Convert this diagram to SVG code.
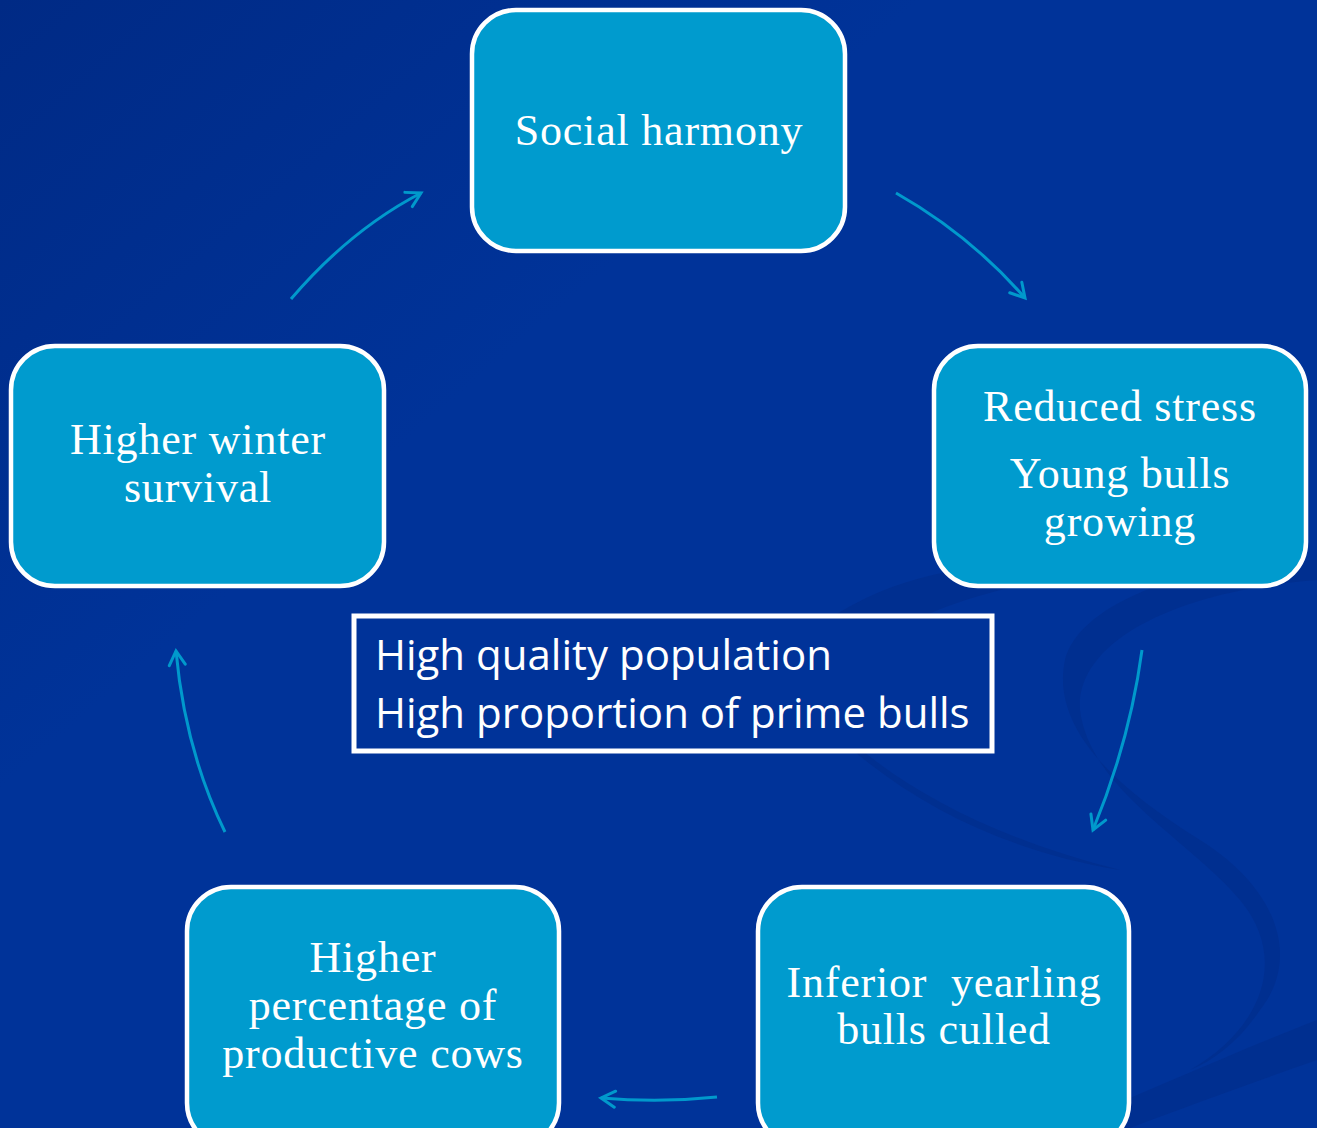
<svg xmlns="http://www.w3.org/2000/svg" width="1317" height="1128" viewBox="0 0 1317 1128">
<defs>
<linearGradient id="bg" x1="0" y1="0" x2="1" y2="1">
<stop offset="0" stop-color="#002a85"/>
<stop offset="0.35" stop-color="#003399"/>
<stop offset="1" stop-color="#003399"/>
</linearGradient>
<marker id="ah" viewBox="0 0 20 20" refX="17" refY="10" markerWidth="20" markerHeight="20" markerUnits="userSpaceOnUse" orient="auto">
<path d="M3,2 L17,10 L3,18" fill="none" stroke="#0099cc" stroke-width="3" stroke-linecap="round"/>
</marker>
<style>
.node rect{fill:#009bce;stroke:#ffffff;stroke-width:4.5}
.t{font-family:"Liberation Serif","DejaVu Serif",serif;font-size:44px;letter-spacing:0.8px;fill:#ffffff;text-anchor:middle}
.c{font-family:"Open Sans",Lato,"Liberation Sans",sans-serif;font-size:42px;fill:#ffffff}
.conn path{fill:none;stroke:#0099cc;stroke-width:3;marker-end:url(#ah)}
.sw{fill:#002d8c;opacity:0.7}
</style>
</defs>
<rect width="1317" height="1128" fill="url(#bg)"/>
<g id="swooshes">
<path class="sw" d="M1317,560 C1200,560 1080,600 1065,660 C1050,730 1120,790 1200,840 C1280,890 1300,960 1260,1010 C1240,1040 1215,1060 1190,1070 C1260,1030 1290,960 1240,900 C1190,840 1090,790 1080,710 C1075,640 1180,590 1317,580 Z"/>
<path class="sw" d="M1317,1020 L1317,1060 C1260,1080 1190,1105 1130,1128 L1060,1128 C1150,1090 1240,1050 1317,1020 Z"/>
<path class="sw" d="M800,640 C900,560 1000,560 1120,570 C1010,580 910,610 850,660 Z" opacity="0.4"/>
<path class="sw" d="M820,720 C900,800 1000,850 1120,870 C1000,840 900,790 840,730 Z" opacity="0.4"/>
</g>
<g id="connectors" class="conn">
<path d="M291,299 Q350,230 421,193"/>
<path d="M896,193 Q970,235 1025,298"/>
<path d="M1142,650 Q1130,740 1093,830"/>
<path d="M717,1097 Q660,1103 601,1098"/>
<path d="M225,832 Q185,750 176,651"/>
</g>
<g id="node-social-harmony" class="node">
<rect x="472" y="10" width="373" height="241" rx="44"/>
<text class="t" x="659" y="145">Social harmony</text>
</g>
<g id="node-reduced-stress" class="node">
<rect x="934" y="346" width="372" height="240" rx="44"/>
<text class="t" x="1120" y="421">Reduced stress</text>
<text class="t" x="1120" y="488">Young bulls</text>
<text class="t" x="1120" y="536">growing</text>
</g>
<g id="node-inferior-yearling" class="node">
<rect x="758" y="887" width="371" height="260" rx="44"/>
<text class="t" x="944" y="997" xml:space="preserve">Inferior  yearling</text>
<text class="t" x="944" y="1044">bulls culled</text>
</g>
<g id="node-higher-percentage" class="node">
<rect x="187" y="887" width="372" height="260" rx="44"/>
<text class="t" x="373" y="972">Higher</text>
<text class="t" x="373" y="1020">percentage of</text>
<text class="t" x="373" y="1068">productive cows</text>
</g>
<g id="node-higher-winter" class="node">
<rect x="11" y="346" width="373" height="240" rx="44"/>
<text class="t" x="198" y="454">Higher winter</text>
<text class="t" x="198" y="502">survival</text>
</g>
<g id="node-center">
<rect x="354" y="616" width="638" height="135" fill="#003399" stroke="#ffffff" stroke-width="5"/>
<text class="c" x="375" y="670">High quality population</text>
<text class="c" x="375" y="728">High proportion of prime bulls</text>
</g>
</svg>
